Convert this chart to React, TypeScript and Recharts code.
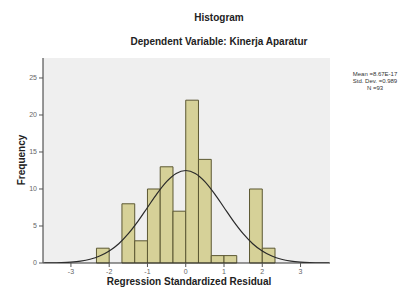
import React from "react";
import {
  ComposedChart,
  Line,
  XAxis,
  YAxis,
  CartesianGrid,
  ReferenceArea,
} from "recharts";

// Histogram bins (standardized residual) and frequencies
const binStarts = [-2.333, -2.0, -1.667, -1.333, -1.0, -0.667, -0.333, 0.0, 0.333, 0.667, 1.0, 1.333, 1.667, 2.0];
const binEnds = [-2.0, -1.667, -1.333, -1.0, -0.667, -0.333, 0.0, 0.333, 0.667, 1.0, 1.333, 1.667, 2.0, 2.333];
const frequencies = [2, 0, 8, 3, 10, 13, 7, 22, 14, 1, 1, 0, 10, 2];

// Normal curve
const curveX = [-3.7, -3.5, -3.25, -3, -2.75, -2.5, -2.25, -2, -1.75, -1.5, -1.25, -1, -0.75, -0.5, -0.25, 0, 0.25, 0.5, 0.75, 1, 1.25, 1.5, 1.75, 2, 2.25, 2.5, 2.75, 3, 3.25, 3.5, 3.75];
const curveY = [0.01, 0.02, 0.06, 0.13, 0.26, 0.51, 0.94, 1.62, 2.61, 3.96, 5.62, 7.5, 9.38, 11.0, 12.1, 12.5, 12.1, 11.0, 9.38, 7.5, 5.62, 3.96, 2.61, 1.62, 0.94, 0.51, 0.26, 0.13, 0.06, 0.02, 0.01];

const xTicks = [-3, -2, -1, 0, 1, 2, 3];
const yTicks = [0, 5, 10, 15, 20, 25];

const title = "Histogram";
const subtitle = "Dependent Variable: Kinerja Aparatur";
const xLabel = "Regression Standardized Residual";
const yLabel = "Frequency";
const stats = ["Mean =8.67E-17", "Std. Dev. =0.989", "N =93"];

const curveData = curveX.map((x, i) => ({ x, y: curveY[i] }));

const FONT = "'Liberation Sans', Arial, sans-serif";

export default function App() {
  return (
    <div style={{ position: "absolute", left: 0, top: 0, width: 410, height: 296, background: "#fff", fontFamily: FONT }}>
      <ComposedChart
        width={410}
        height={296}
        data={curveData}
        margin={{ top: 58, right: 80, bottom: 13, left: 13 }}
      >
        <CartesianGrid horizontal={false} vertical={false} fill="#efefef" />
        <XAxis
          xAxisId="b"
          dataKey="x"
          type="number"
          domain={[-3.73, 3.77]}
          ticks={xTicks}
          allowDataOverflow
          height={20}
          tickSize={4}
          tick={{ fontSize: 7, fill: "#666", fontFamily: FONT }}
          tickLine={{ stroke: "#555" }}
          axisLine={{ stroke: "#333", strokeWidth: 1 }}
        />
        <XAxis
          xAxisId="t"
          orientation="top"
          type="number"
          domain={[-3.73, 3.77]}
          height={0}
          tick={false}
          tickLine={false}
          axisLine={{ stroke: "#999" }}
        />
        <YAxis
          yAxisId="l"
          type="number"
          domain={[0, 27.7]}
          ticks={yTicks}
          allowDataOverflow
          width={30}
          tickSize={4}
          tick={{ fontSize: 7, fill: "#666", fontFamily: FONT }}
          tickLine={{ stroke: "#555" }}
          axisLine={{ stroke: "#333", strokeWidth: 1 }}
        />
        <YAxis
          yAxisId="r"
          orientation="right"
          type="number"
          domain={[0, 27.7]}
          width={0}
          tick={false}
          tickLine={false}
          axisLine={{ stroke: "#999" }}
        />
        {frequencies.map((f, i) =>
          f > 0 ? (
            <ReferenceArea
              key={i}
              xAxisId="b"
              yAxisId="l"
              x1={binStarts[i]}
              x2={binEnds[i]}
              y1={0}
              y2={f}
              fill="#d6d198"
              fillOpacity={1}
              stroke="#5c5833"
              strokeWidth={1}
              strokeOpacity={1}
            />
          ) : null
        )}
        <Line
          xAxisId="b"
          yAxisId="l"
          dataKey="y"
          type="monotone"
          stroke="#2a2a2a"
          strokeWidth={1.2}
          dot={false}
          isAnimationActive={false}
        />
      </ComposedChart>

      <div style={{ position: "absolute", left: 219, top: 17, transform: "translate(-50%,-50%)", fontSize: 10, fontWeight: "bold", color: "#222", whiteSpace: "nowrap" }}>
        {title}
      </div>
      <div style={{ position: "absolute", left: 219, top: 41, transform: "translate(-50%,-50%)", fontSize: 10, fontWeight: "bold", color: "#222", whiteSpace: "nowrap" }}>
        {subtitle}
      </div>
      <div style={{ position: "absolute", left: 189, top: 281, transform: "translate(-50%,-50%)", fontSize: 10, fontWeight: "bold", color: "#222", whiteSpace: "nowrap" }}>
        {xLabel}
      </div>
      <div style={{ position: "absolute", left: 21, top: 160, transform: "translate(-50%,-50%) rotate(-90deg)", fontSize: 10, fontWeight: "bold", color: "#222", whiteSpace: "nowrap" }}>
        {yLabel}
      </div>
      <div style={{ position: "absolute", left: 375, top: 71, transform: "translateX(-50%)", fontSize: 6, lineHeight: "7px", color: "#333", textAlign: "center", whiteSpace: "nowrap" }}>
        {stats.map((s, i) => (
          <div key={i}>{s}</div>
        ))}
      </div>
    </div>
  );
}
